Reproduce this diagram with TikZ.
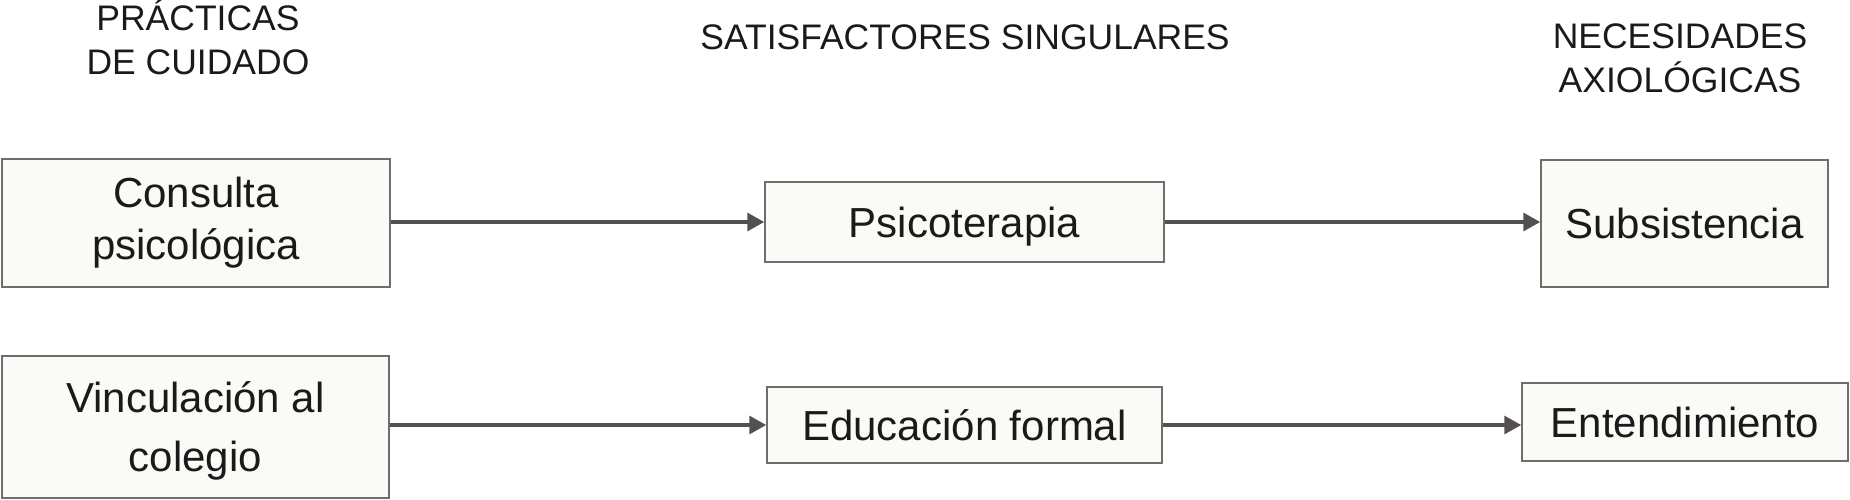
\documentclass[tikz,border=0pt]{standalone}
\usepackage{fontspec}
\setmainfont{Liberation Sans}
\usetikzlibrary{arrows.meta}
\definecolor{boxline}{HTML}{6E6E6E}
\definecolor{boxfill}{HTML}{FAFAF7}
\definecolor{arrowgray}{HTML}{555050}
\definecolor{textgray}{HTML}{1A1A1A}

\begin{document}
\begin{tikzpicture}[x=1pt, y=-1pt,
    caja/.style={draw=boxline, line width=1.5pt, fill=boxfill, align=center, inner sep=0pt, text=textgray, font=\fontsize{42}{52}\selectfont},
    titulo/.style={align=center, inner sep=0pt, text=textgray, font=\fontsize{35.5}{44}\selectfont},
    flecha/.style={draw=arrowgray, line width=3.2pt, -{Triangle[length=17pt, width=18pt]}}]
\useasboundingbox (0,0) rectangle (1850,500);
% column titles
\node[titulo, anchor=base] (tpracticas) at (198,75) {PRÁCTICAS\\DE CUIDADO};
\node[titulo, anchor=base] (tsatisf) at (965,50) {SATISFACTORES SINGULARES};
\node[titulo, anchor=base] (tnecesid) at (1680,93) {NECESIDADES\\AXIOLÓGICAS};
% boxes
\node[caja, minimum width=388pt, minimum height=128pt] (consulta) at (196,223) {Consulta\\psicológica};
\node[caja, minimum width=387pt, minimum height=142pt, text depth=0pt, font=\fontsize{42}{59}\selectfont] (vinculo) at (195.5,427) {Vinculación al\\colegio};
\node[caja, minimum width=399pt, minimum height=80pt, text depth=0pt] (psico) at (964.5,222) {Psicoterapia};
\node[caja, minimum width=395pt, minimum height=76pt] (educ) at (964.5,425) {Educación formal};
\node[caja, minimum width=287pt, minimum height=127pt] (subs) at (1684.5,223.5) {Subsistencia};
\node[caja, minimum width=326pt, minimum height=78pt] (entend) at (1685,422) {Entendimiento};
% arrows
\draw[flecha] (consulta.east |- psico) -- (psico.west);
\draw[flecha] (psico.east) -- (subs.west |- psico);
\draw[flecha] (vinculo.east |- educ) -- (educ.west);
\draw[flecha] (educ.east) -- (entend.west |- educ);
\end{tikzpicture}
\end{document}
